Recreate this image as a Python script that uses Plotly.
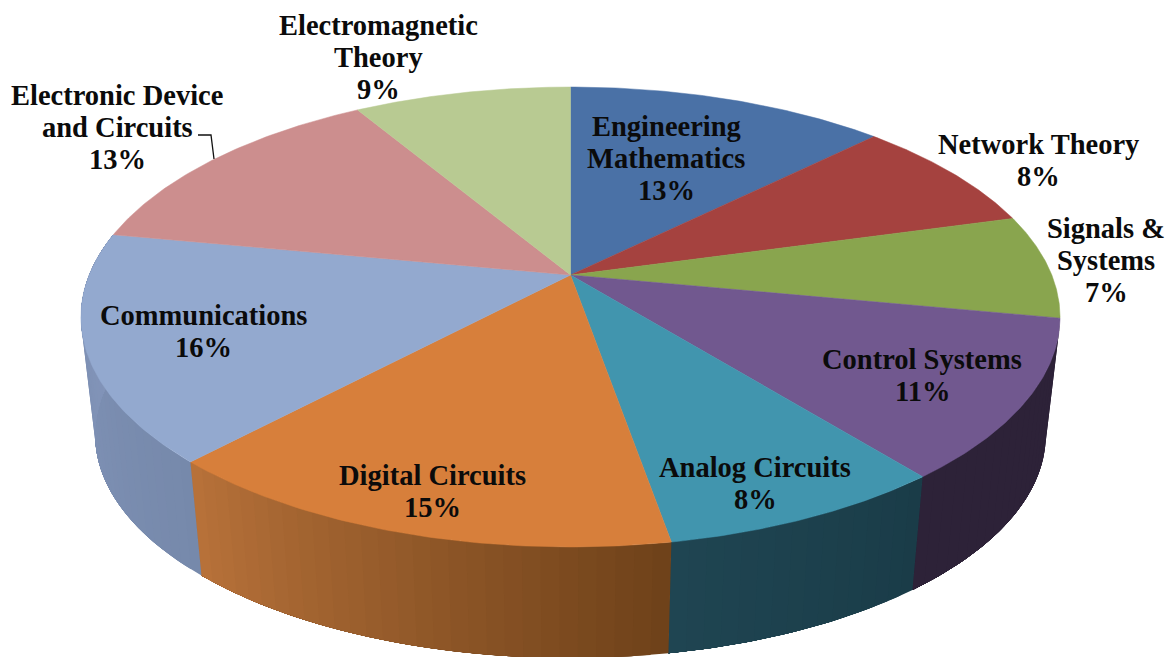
import numpy as np
import plotly.graph_objects as go

categories = ["Engineering<br>Mathematics", "Network Theory", "Signals &<br>Systems", "Control Systems",
              "Analog Circuits", "Digital Circuits", "Communications",
              "Electronic Device<br>and\u00a0Circuits", "Electromagnetic<br>Theory"]
# unrounded shares, read from the slice boundaries; labels show them rounded
values = [12.6, 8.1, 7.3, 11.2, 8.05, 14.75, 16.0, 13.45, 8.55]
top_colors = ["#4a71a6", "#a5423f", "#89a54e", "#71588f", "#4195ae", "#d77f3b", "#93a9cf", "#cc8e8e", "#b8ca92"]
side_start = ["#4a71a6", "#6e2c2a", "#5c6e34", "#2d2238", "#1a3c48", "#6e4119", "#7689ab", "#8f6464", "#82906a"]
side_end = ["#4a71a6", "#6e2c2a", "#5c6e34", "#2d2238", "#1f4552", "#b8723a", "#8496bb", "#8f6464", "#82906a"]
label_x = [666, 1038, 1106, 922, 755, 432, 203, 117, 378]
label_y = [158, 160, 260, 375, 483, 491, 331, 127, 57]

# perspective of the pie plane, in pixels
CX, CY, A, B, K = 570.5, 275, 481.3, 222.3, 0.1826
DEPTH, SHRINK = 119, 0.971
FONT = "Liberation Serif"
FONT_SIZE = 28.5
LINE_STEP = 32


def project(turn, scale=1.0, dy=0.0):
    th = 2 * np.pi * np.asarray(turn)
    u, v = np.sin(th), np.cos(th)
    d = 1 + K * v
    return CX + scale * A * u / d, CY + dy - scale * B * v / d


def mix(c1, c2, t):
    a = [int(c1[i:i + 2], 16) for i in (1, 3, 5)]
    b = [int(c2[i:i + 2], 16) for i in (1, 3, 5)]
    return "#%02x%02x%02x" % tuple(round(p + (q - p) * t) for p, q in zip(a, b))


fig = go.Figure()
edges = np.concatenate([[0], np.cumsum(values)]) / sum(values)

# side wall: overlapping strips, each running to the end of its slice so no seams show
for i in range(len(values)):
    lo, hi = max(edges[i], 0.28), min(edges[i + 1], 0.78)
    if hi <= lo + 1e-6:
        continue
    n = max(2, int((hi - lo) * 200))
    cuts = np.linspace(lo, hi, n + 1)
    for j in range(n):
        s = np.linspace(cuts[j], hi, 40)
        x1, y1 = project(s)
        x2, y2 = project(s[::-1], SHRINK, DEPTH)
        col = mix(side_start[i], side_end[i], (j + 0.5) / n)
        fig.add_trace(go.Scatter(x=np.r_[x1, x2, x1[0]], y=np.r_[y1, y2, y1[0]], mode="lines",
                                 line=dict(width=0), fill="toself", fillcolor=col,
                                 hoverinfo="skip", showlegend=False))

# top faces
for i in range(len(values)):
    s = np.linspace(edges[i], edges[i + 1], 80)
    x, y = project(s)
    fig.add_trace(go.Scatter(x=np.r_[CX, x, CX], y=np.r_[CY, y, CY], mode="lines",
                             line=dict(color=top_colors[i], width=0.5), fill="toself", fillcolor=top_colors[i],
                             name=categories[i], hoverinfo="skip", showlegend=False))

# leader line of the Electronic Device label
fig.add_trace(go.Scatter(x=[198, 211, 214], y=[135, 135, 159], mode="lines",
                         line=dict(color="#111111", width=1.3), hoverinfo="skip", showlegend=False))

# labels, one annotation per line
for name, val, lx, ly in zip(categories, values, label_x, label_y):
    lines = name.split("<br>") + [f"{round(val)}%"]
    y0 = ly - (len(lines) - 1) * LINE_STEP / 2
    for k, line in enumerate(lines):
        fig.add_annotation(x=lx, y=y0 + k * LINE_STEP, text=line, showarrow=False,
                           xanchor="center", yanchor="middle",
                           font=dict(family=FONT, size=FONT_SIZE, color="#0b0b0b", weight="bold"))

fig.update_layout(width=1173, height=657, margin=dict(l=0, r=0, t=0, b=0), autosize=False,
                  paper_bgcolor="white", plot_bgcolor="white", showlegend=False,
                  xaxis=dict(range=[0, 1173], visible=False, fixedrange=True),
                  yaxis=dict(range=[657, 0], visible=False, fixedrange=True))
fig.write_html("out.html", config={"displayModeBar": False}, post_script="document.body.style.margin='0';")
